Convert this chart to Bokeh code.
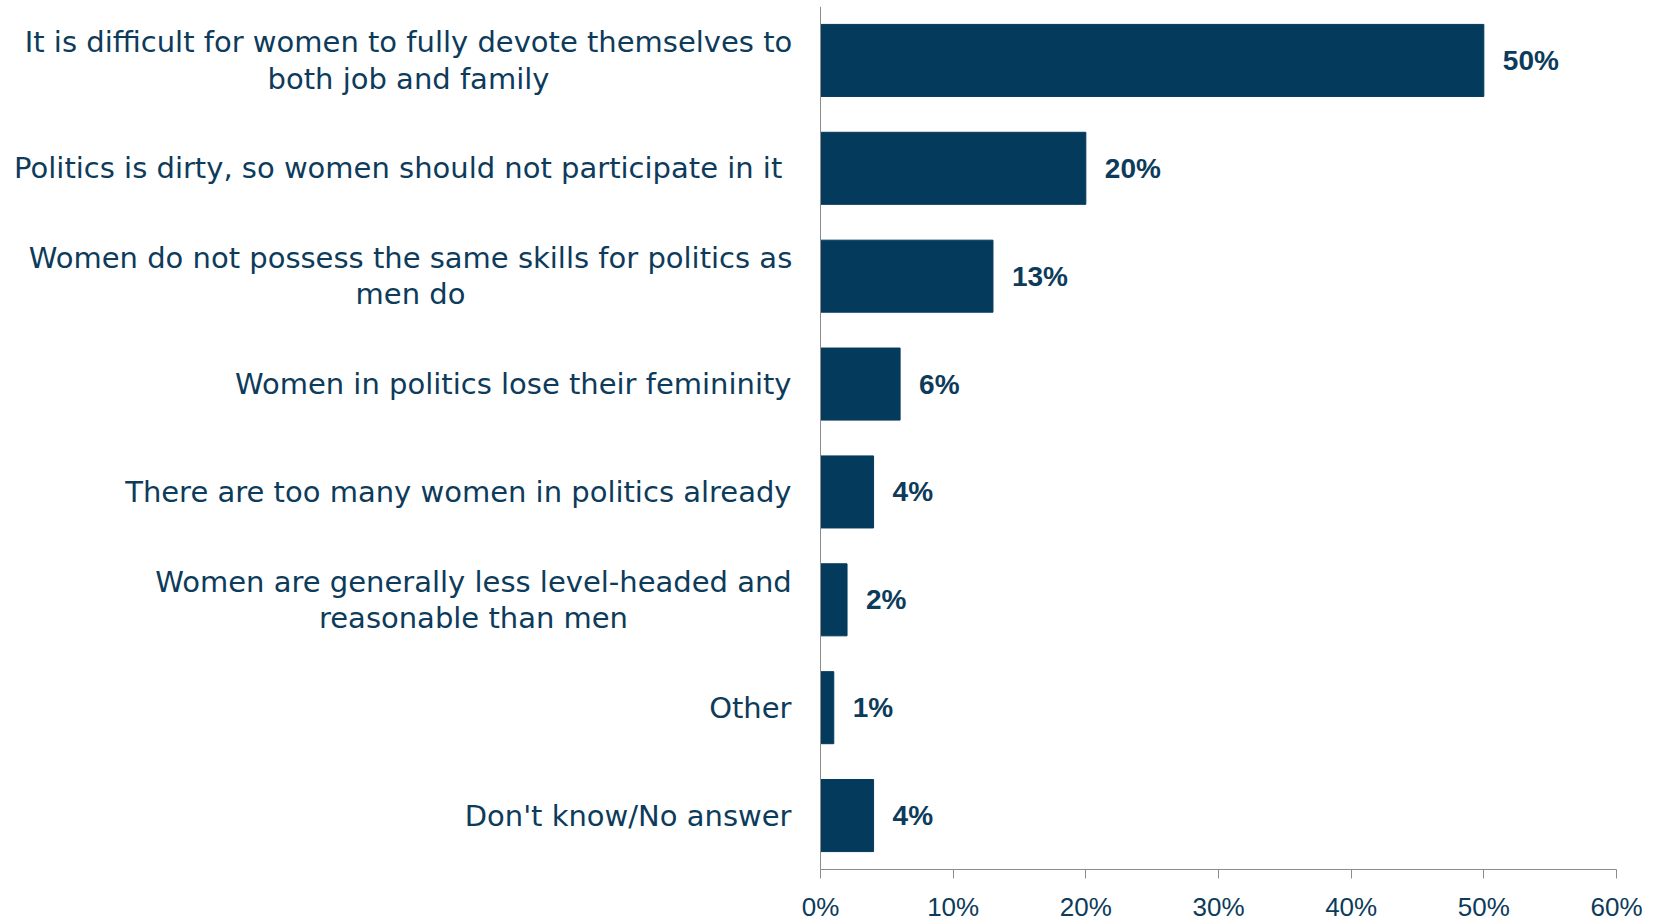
from bokeh.plotting import figure
from bokeh.models import (ColumnDataSource, FactorRange, Range1d, FixedTicker,
                          PrintfTickFormatter, LabelSet, Span)
from bokeh.core.properties import value
from bokeh.embed import file_html
from bokeh.resources import INLINE

# ---- data ----
categories = [
    "It is difficult for women to fully devote themselves to\nboth job and family",
    "Politics is dirty, so women should not participate in it ",
    "Women do not possess the same skills for politics as\nmen do",
    "Women in politics lose their femininity",
    "There are too many women in politics already",
    "Women are generally less level-headed and\nreasonable than men",
    "Other",
    "Don't know/No answer",
]
values = [50, 20, 13, 6, 4, 2, 1, 4]
value_labels = ["50%", "20%", "13%", "6%", "4%", "2%", "1%", "4%"]
x_ticks = [0, 10, 20, 30, 40, 50, 60]
x_max = 60

# ---- style / layout ----
BAR = "#043a5c"
TXT = "#0d3b5b"
AXIS = "#8c8c8c"
LABEL_AREA = 820      # px left of the value axis reserved for the category labels
PLOT_W = 796          # px of the 0..60 % scale
GAP = 29              # px between label and axis
# centre of the two-line label blocks, px left of the axis
center_offsets = {0: -412, 2: -410, 5: -347}

p = figure(width=1652, height=924,
           y_range=FactorRange(factors=categories[::-1], range_padding=0),
           x_range=Range1d(-x_max * LABEL_AREA / PLOT_W, x_max),
           output_backend="svg", toolbar_location=None,
           min_border_left=0, min_border_right=36,
           min_border_top=6, min_border_bottom=54)

src = ColumnDataSource(dict(cat=categories, val=values, lab=value_labels))
p.hbar(y="cat", right="val", left=0, height=0.668, source=src,
       fill_color=BAR, line_color=BAR)

# value labels
p.add_layout(LabelSet(x="val", y="cat", text="lab", source=src,
                      x_offset=19, text_align="left", text_baseline="middle",
                      text_font=value("Liberation Sans"), text_font_style="bold",
                      text_font_size="28px", text_color=TXT))

# category labels
single = [c for i, c in enumerate(categories) if i not in center_offsets]
multi_idx = sorted(center_offsets)
src_single = ColumnDataSource(dict(cat=single, txt=single))
src_multi = ColumnDataSource(dict(cat=[categories[i] for i in multi_idx],
                                  txt=[categories[i] for i in multi_idx],
                                  off=[center_offsets[i] for i in multi_idx]))
p.text(x=0, y="cat", text="txt", source=src_single,
       x_offset=-GAP, text_align="right", text_baseline="middle",
       text_font=value("DejaVu Sans"), text_font_size=value("29px"),
       text_color=TXT)
p.text(x=0, y="cat", text="txt", source=src_multi,
       x_offset="off", text_align="center", text_baseline="middle",
       text_font=value("DejaVu Sans"), text_font_size=value("29px"),
       text_line_height=1.07, text_color=TXT)

# vertical axis line at 0
p.add_layout(Span(location=0, dimension="height", line_color=AXIS, line_width=1))

# axes
p.xgrid.grid_line_color = None
p.ygrid.grid_line_color = None
p.outline_line_color = None
p.yaxis.visible = False

p.xaxis.bounds = (0, x_max)
p.xaxis.ticker = FixedTicker(ticks=x_ticks)
p.xaxis.formatter = PrintfTickFormatter(format="%d%%")
p.xaxis.axis_line_color = AXIS
p.xaxis.major_tick_line_color = AXIS
p.xaxis.major_tick_in = 0
p.xaxis.major_tick_out = 9
p.xaxis.minor_tick_line_color = None
p.xaxis.major_label_standoff = 13
p.xaxis.major_label_text_font = "Liberation Sans"
p.xaxis.major_label_text_font_size = "26px"
p.xaxis.major_label_text_color = TXT

open("out.html", "w").write(file_html(p, INLINE))
